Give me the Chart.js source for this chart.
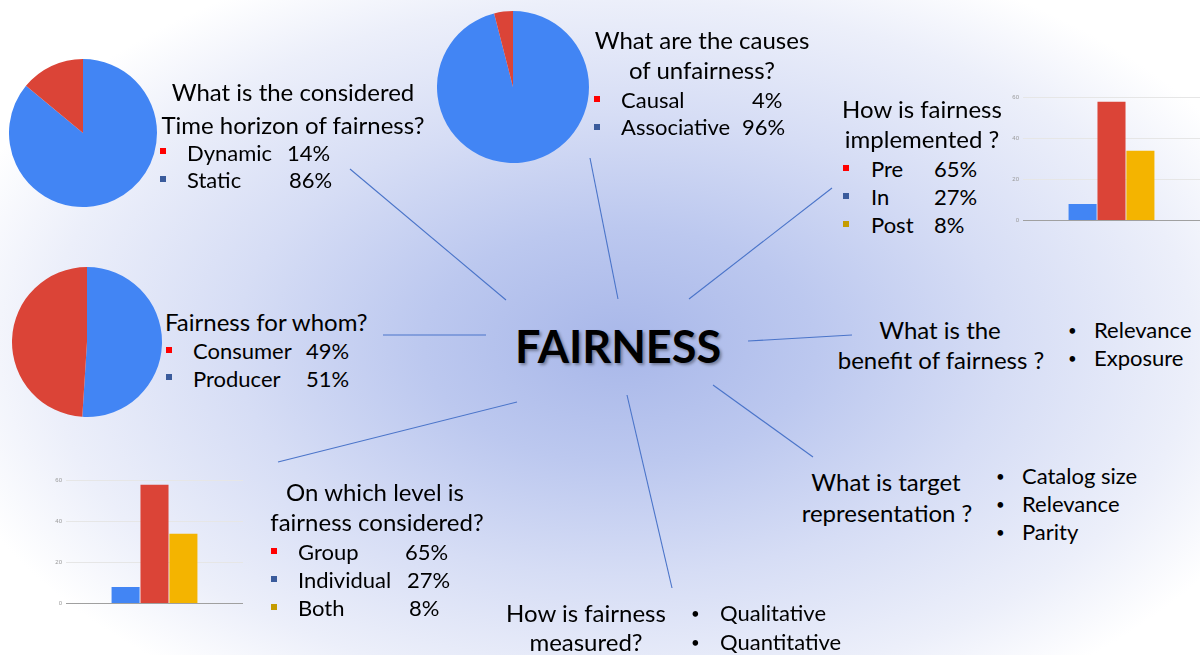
<!DOCTYPE html>
<html>
<head>
<meta charset="utf-8">
<script src="https://cdn.jsdelivr.net/npm/chart.js@4.4.1/dist/chart.umd.min.js"></script>
<style>
  html, body { margin:0; padding:0; background:#fff; }
  #stage {
    position:relative; width:1200px; height:655px; overflow:hidden;
    background: radial-gradient(ellipse 700px 420px at 620px 345px,
      #a8b7e9 0%, #bcc8ef 28%, #d6ddf5 55%, #eceffa 82%, #ffffff 100%);
    font-family: Lato, "Open Sans", sans-serif;
  }
  .t { position:absolute; font-size:22px; line-height:28px; white-space:nowrap; color:#000; margin-top:2px; }
  .h { font-size:24px; }
  .b { font-size:15px; }
  .c { text-align:center; width:400px; }
  .sq { position:absolute; width:6px; height:6px; }
  .red { background:#ff0000; }
  .blu { background:#3a5b9c; }
  .gld { background:#c59c00; }
  canvas { position:absolute; }
  #title { position:absolute; font-family: Lato, sans-serif; font-weight:700; font-size:45px;
    line-height:56px; left:418px; width:400px; text-align:center; top:318px;
    text-shadow: 2px 2px 3px rgba(0,0,0,0.35); }
  svg { position:absolute; left:0; top:0; }
</style>
</head>
<body>
<div id="stage">
  <svg width="1200" height="655" id="links"></svg>

  <canvas id="pieHorizon" width="148" height="148" style="left:9px;top:59px"></canvas>
  <canvas id="pieCauses" width="152" height="152" style="left:437px;top:11px"></canvas>
  <canvas id="pieWhom" width="150" height="150" style="left:12px;top:267px"></canvas>
  <canvas id="barImpl" width="200" height="138" style="left:1000px;top:90px"></canvas>
  <canvas id="barLevel" width="203" height="138" style="left:40px;top:473px"></canvas>

  <div id="title">FAIRNESS</div>

  <!-- Time horizon -->
  <div class="t h c" style="left:93px;top:76px">What is the considered</div>
  <div class="t h c" style="left:93px;top:109px">Time horizon of fairness?</div>
  <div class="sq red" style="left:160px;top:148px"></div>
  <div class="t" style="left:187px;top:137px">Dynamic</div>
  <div class="t" style="left:287px;top:137px">14%</div>
  <div class="sq blu" style="left:160px;top:176px"></div>
  <div class="t" style="left:187px;top:164px">Static</div>
  <div class="t" style="left:289px;top:164px">86%</div>

  <!-- Causes -->
  <div class="t h c" style="left:502px;top:24px">What are the causes</div>
  <div class="t h c" style="left:502px;top:54px">of unfairness?</div>
  <div class="sq red" style="left:594px;top:96px"></div>
  <div class="t" style="left:621px;top:84px">Causal</div>
  <div class="t" style="left:752px;top:84px">4%</div>
  <div class="sq blu" style="left:594px;top:124px"></div>
  <div class="t" style="left:621px;top:111px">Associative</div>
  <div class="t" style="left:742px;top:111px">96%</div>

  <!-- Implemented -->
  <div class="t h c" style="left:722px;top:93px">How is fairness</div>
  <div class="t h c" style="left:722px;top:123px">implemented ?</div>
  <div class="sq red" style="left:843px;top:165px"></div>
  <div class="t" style="left:871px;top:153px">Pre</div>
  <div class="t" style="left:934px;top:153px">65%</div>
  <div class="sq blu" style="left:843px;top:193px"></div>
  <div class="t" style="left:871px;top:181px">In</div>
  <div class="t" style="left:934px;top:181px">27%</div>
  <div class="sq gld" style="left:843px;top:221px"></div>
  <div class="t" style="left:871px;top:209px">Post</div>
  <div class="t" style="left:934px;top:209px">8%</div>

  <!-- Whom -->
  <div class="t h" style="left:165px;top:306px">Fairness for whom?</div>
  <div class="sq red" style="left:166px;top:347px"></div>
  <div class="t" style="left:193px;top:335px">Consumer</div>
  <div class="t" style="left:306px;top:335px">49%</div>
  <div class="sq blu" style="left:166px;top:374px"></div>
  <div class="t" style="left:193px;top:363px">Producer</div>
  <div class="t" style="left:306px;top:363px">51%</div>

  <!-- Benefit -->
  <div class="t h c" style="left:740px;top:314px">What is the</div>
  <div class="t h c" style="left:741px;top:344px">benefit of fairness ?</div>
  <div class="t b" style="left:1068px;top:314px">•</div>
  <div class="t" style="left:1094px;top:314px">Relevance</div>
  <div class="t b" style="left:1068px;top:342px">•</div>
  <div class="t" style="left:1094px;top:342px">Exposure</div>

  <!-- Target -->
  <div class="t h c" style="left:686px;top:466px">What is target</div>
  <div class="t h c" style="left:687px;top:497px">representation ?</div>
  <div class="t b" style="left:996px;top:460px">•</div>
  <div class="t" style="left:1022px;top:460px">Catalog size</div>
  <div class="t b" style="left:996px;top:488px">•</div>
  <div class="t" style="left:1022px;top:488px">Relevance</div>
  <div class="t b" style="left:996px;top:516px">•</div>
  <div class="t" style="left:1022px;top:516px">Parity</div>

  <!-- Level -->
  <div class="t h c" style="left:175px;top:476px">On which level is</div>
  <div class="t h c" style="left:177px;top:506px">fairness considered?</div>
  <div class="sq red" style="left:271px;top:548px"></div>
  <div class="t" style="left:298px;top:536px">Group</div>
  <div class="t" style="left:405px;top:536px">65%</div>
  <div class="sq blu" style="left:271px;top:576px"></div>
  <div class="t" style="left:298px;top:564px">Individual</div>
  <div class="t" style="left:407px;top:564px">27%</div>
  <div class="sq gld" style="left:271px;top:604px"></div>
  <div class="t" style="left:298px;top:592px">Both</div>
  <div class="t" style="left:409px;top:592px">8%</div>

  <!-- Measured -->
  <div class="t h c" style="left:386px;top:597px">How is fairness</div>
  <div class="t h c" style="left:386px;top:626px">measured?</div>
  <div class="t b" style="left:691px;top:597px">•</div>
  <div class="t" style="left:720px;top:597px">Qualitative</div>
  <div class="t b" style="left:691px;top:626px">•</div>
  <div class="t" style="left:720px;top:626px">Quantitative</div>
</div>

<script>
// ---- data ----
const horizonLabels = ['Static', 'Dynamic'];
const horizonValues = [86, 14];
const causesLabels = ['Associative', 'Causal'];
const causesValues = [96, 4];
const whomLabels = ['Producer', 'Consumer'];
const whomValues = [51, 49];

const barCategories = [''];
const implSeriesNames = ['In', 'Pre', 'Post'];
const implValues = [8, 58, 34];
const levelSeriesNames = ['Individual', 'Group', 'Both'];
const levelValues = [8, 58, 34];
const barTicks = [0, 20, 40, 60];

// ---- styles ----
const BLUE = '#4285f4', RED = '#db4437', YELLOW = '#f4b400';
const pieColors = [BLUE, RED];
const barColors = [BLUE, RED, YELLOW];

// connector lines (decorative layout)
const links = [
  [350,169,506,300],[590,158,618,299],[832,188,689,299],[383,335,486,335],
  [748,341,852,335],[713,385,813,457],[627,395,672,588],[278,462,517,402]
];
const svg = document.getElementById('links');
links.forEach(l => {
  const ln = document.createElementNS('http://www.w3.org/2000/svg','line');
  ln.setAttribute('x1', l[0]); ln.setAttribute('y1', l[1]);
  ln.setAttribute('x2', l[2]); ln.setAttribute('y2', l[3]);
  ln.setAttribute('stroke', '#4a74c9'); ln.setAttribute('stroke-width', '1.1');
  svg.appendChild(ln);
});

Chart.defaults.animation = false;
Chart.defaults.devicePixelRatio = 1;

function makePie(id, labels, values) {
  new Chart(document.getElementById(id), {
    type: 'pie',
    data: { labels, datasets: [{ data: values, backgroundColor: pieColors, borderWidth: 0 }] },
    options: {
      responsive: false, events: [],
      layout: { padding: 0 },
      plugins: { legend: { display: false }, tooltip: { enabled: false } }
    }
  });
}
makePie('pieHorizon', horizonLabels, horizonValues);
makePie('pieCauses', causesLabels, causesValues);
makePie('pieWhom', whomLabels, whomValues);

function makeBar(id, names, values, axisW) {
  new Chart(document.getElementById(id), {
    type: 'bar',
    data: {
      labels: barCategories,
      datasets: names.map((n, i) => ({
        label: n, data: [values[i]], backgroundColor: barColors[i],
        borderWidth: 0, categoryPercentage: 0.49, barPercentage: 0.97
      }))
    },
    options: {
      responsive: false, events: [],
      layout: { padding: { top: 7, bottom: 2, left: 0, right: 0 } },
      plugins: { legend: { display: false }, tooltip: { enabled: false } },
      scales: {
        x: { display: false },
        y: {
          min: 0, max: 60,
          afterBuildTicks: s => { s.ticks = barTicks.map(v => ({ value: v })); },
          afterFit: s => { s.width = axisW; },
          border: { display: false },
          grid: {
            drawTicks: false,
            color: c => (c.tick && c.tick.value === 0) ? '#a0a0a0' : '#e6e6e6',
            lineWidth: 1
          },
          ticks: { padding: 4, color: '#9a9a9a', font: { size: 6, family: 'Liberation Sans, Arial' } }
        }
      }
    }
  });
}
makeBar('barImpl', implSeriesNames, implValues, 23);
makeBar('barLevel', levelSeriesNames, levelValues, 26);
</script>
</body>
</html>
